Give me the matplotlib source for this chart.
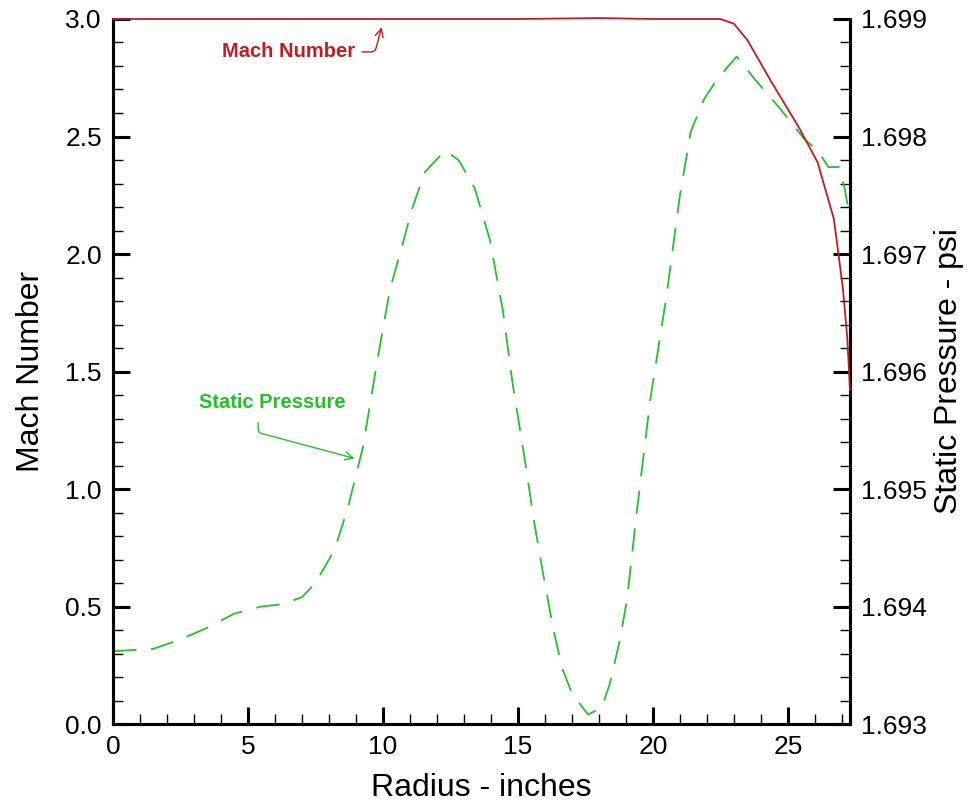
"""Mach number and static pressure versus radius."""
import matplotlib

matplotlib.use('Agg')
import matplotlib.pyplot as plt
from matplotlib.ticker import MultipleLocator, FormatStrFormatter

plt.rcParams['font.family'] = ['Liberation Sans', 'DejaVu Sans']

RED = '#c41a22'
GREEN = '#22c326'

# Mach number vs radius (inches)
radius_mach = [0.0, 5.0, 10.0, 15.0, 18.0, 20.0, 22.5, 23.0, 23.5, 24.4, 25.4,
               26.1, 26.7, 26.85, 27.04, 27.2, 27.3]
mach = [3.0, 3.0, 3.0, 3.0, 3.004, 3.0, 3.0, 2.98, 2.91, 2.73, 2.54,
        2.39, 2.15, 2.02, 1.85, 1.64, 1.42]

# Static pressure (psi) vs radius (inches)
radius_p = [0.0, 1.5, 2.5, 3.5, 4.5, 5.5, 6.3, 7.0, 7.5, 8.2, 8.7, 9.26,
            9.78, 10.26, 10.7, 11.07, 11.56, 12.3, 12.8, 13.4, 13.96, 14.44,
            14.8, 15.26, 15.6, 15.93, 16.3, 16.63, 17.0, 17.6, 18.1, 18.4,
            18.78, 19.04, 19.4, 19.9, 20.5, 21.0, 21.4, 21.9, 22.3, 22.8,
            23.1, 23.8, 24.7, 25.6, 26.1, 26.5, 26.9, 27.1, 27.3]
pressure = [1.69362, 1.69364, 1.69372, 1.69382, 1.69394, 1.69400, 1.69402,
            1.69408, 1.69420, 1.69448, 1.69484, 1.69536, 1.69608, 1.69670,
            1.69706, 1.69738, 1.69770, 1.69788, 1.69780, 1.69756, 1.69712,
            1.69652, 1.69590, 1.69524, 1.69472, 1.69428, 1.69382, 1.69348,
            1.69326, 1.69308, 1.69314, 1.69334, 1.69372, 1.69406, 1.69480,
            1.69576, 1.69664, 1.69750, 1.69804, 1.69832, 1.69846, 1.69860,
            1.69868, 1.69848, 1.69824, 1.69798, 1.69788, 1.69774, 1.69774,
            1.69756, 1.69730]

fig = plt.figure(figsize=(9.71, 8.05), dpi=100)
ax = fig.add_axes([0.1164, 0.1006, 0.7590, 0.8758])
ax2 = ax.twinx()

ax2.plot(radius_p, pressure, color=GREEN, linewidth=1.3, dashes=(13, 8))
ax2.plot(radius_mach, [1.693 + (m * 0.002) for m in mach], color=RED,
         linewidth=1.3, clip_on=False, zorder=3)

ax.set_xlim(0, 27.3)
ax.set_ylim(0, 3.0)
ax2.set_ylim(1.693, 1.699)

ax.xaxis.set_major_locator(MultipleLocator(5))
ax.xaxis.set_minor_locator(MultipleLocator(1))
ax.yaxis.set_major_locator(MultipleLocator(0.5))
ax.yaxis.set_minor_locator(MultipleLocator(0.1))
ax.yaxis.set_major_formatter(FormatStrFormatter('%.1f'))
ax2.yaxis.set_major_locator(MultipleLocator(0.001))
ax2.yaxis.set_minor_locator(MultipleLocator(0.0002))
ax2.yaxis.set_major_formatter(FormatStrFormatter('%.3f'))

for a in (ax, ax2):
    a.spines['top'].set_visible(False)
    for s in a.spines.values():
        s.set_linewidth(2.2)
    a.tick_params(which='major', direction='in', length=12, width=2.2,
                  labelsize=19, pad=8)
    a.tick_params(which='minor', direction='in', length=7, width=1.0)
ax.tick_params(which='both', top=False, right=False)
ax2.tick_params(which='both', left=False)

ax.set_xlabel('Radius - inches', fontsize=23, labelpad=10)
ax.set_ylabel('Mach Number', fontsize=23, labelpad=14)
ax2.set_ylabel('Static Pressure - psi', fontsize=23, labelpad=5)

ax.annotate('Mach Number', xy=(9.95, 2.965), xytext=(6.5, 2.86),
            color=RED, fontsize=14.5, fontweight='bold', ha='center', va='center',
            arrowprops=dict(arrowstyle='->', color=RED, lw=1.0, relpos=(1.0, 0.5),
                            connectionstyle='angle,angleA=0,angleB=75,rad=4',
                            shrinkA=3, shrinkB=0))
ax.annotate('Static Pressure', xy=(8.95, 1.13), xytext=(5.9, 1.37),
            color=GREEN, fontsize=14.5, fontweight='bold', ha='center', va='center',
            arrowprops=dict(arrowstyle='->', color=GREEN, lw=1.0, relpos=(0.4, 0.0),
                            connectionstyle='angle,angleA=-88,angleB=-15,rad=3',
                            shrinkA=6, shrinkB=0))

fig.savefig('out.png', dpi=100)
plt.close(fig)
